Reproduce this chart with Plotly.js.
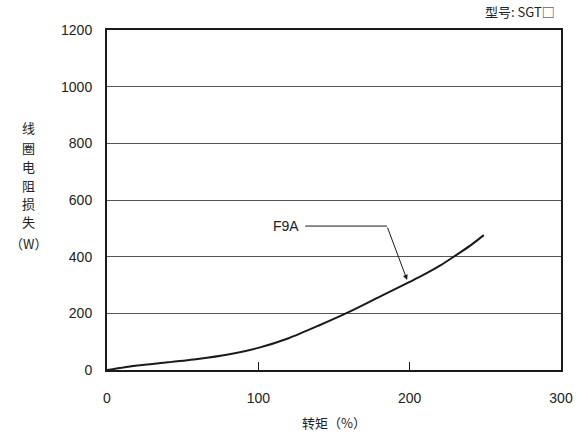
<!DOCTYPE html>
<html>
<head>
<meta charset="utf-8">
<script src="https://cdn.plot.ly/plotly-3.0.1.min.js"></script>
<style>html,body{margin:0;padding:0;background:#fff}#chart{width:586px;height:437px}</style>
</head>
<body>
<div id="chart"></div>
<script>
var torque = [0, 20, 40, 60, 80, 100, 120, 140, 160, 180, 200, 210, 220, 230, 240, 249];
var loss   = [0, 16, 27, 39, 55, 78, 112, 157, 205, 258, 311, 338, 368, 403, 439, 476];
var seriesName = 'F9A';
var xTicks = [0, 100, 200, 300];
var yTicks = [0, 200, 400, 600, 800, 1000, 1200];
var yTitleChars = ['线', '圈', '电', '阻', '损', '失', '（W）'];
var yTitlePix = [127, 147, 166, 185, 203, 221, 243];

var font = '"Liberation Sans", Arial, sans-serif';
var cjk = '"Noto Sans CJK SC", "Liberation Sans", sans-serif';

var trace = {
  x: torque, y: loss, type: 'scatter', mode: 'lines', name: seriesName,
  line: {color: '#1a1a1a', width: 2, shape: 'spline', smoothing: 0.7},
  hoverinfo: 'skip'
};

var annotations = [
  {xref: 'x', yref: 'y', x: 198.3, y: 318, axref: 'x', ayref: 'y', ax: 185, ay: 508,
   showarrow: true, arrowhead: 2, arrowsize: 1, arrowwidth: 1, arrowcolor: '#1a1a1a', text: ''},
  {xref: 'x', yref: 'y', x: 128, y: 508, xanchor: 'right', yanchor: 'middle',
   showarrow: false, text: seriesName, font: {family: font, size: 14, color: '#222'}},
  {xref: 'paper', yref: 'paper', x: 1.0, y: 1.0, xanchor: 'right', yanchor: 'bottom', yshift: 7, xshift: -4,
   showarrow: false, text: '型号: SGT□', font: {family: cjk, size: 13, color: '#222'}}
];
yTitleChars.forEach(function (c, i) {
  annotations.push({xref: 'paper', yref: 'paper', x: (28 - 107) / 454, y: (370 - yTitlePix[i]) / 340,
    xanchor: 'center', yanchor: 'middle', showarrow: false, text: c,
    font: {family: cjk, size: 13, color: '#222'}});
});

var layout = {
  width: 586, height: 437,
  margin: {l: 107, r: 25, t: 30, b: 67},
  paper_bgcolor: '#fff', plot_bgcolor: '#fff',
  showlegend: false,
  font: {family: font, size: 14, color: '#222'},
  xaxis: {
    range: [0, 300], tickvals: xTicks, ticktext: xTicks.map(String),
    showgrid: false, zeroline: false,
    showline: true, mirror: true, linecolor: '#1a1a1a', linewidth: 2,
    ticks: 'inside', ticklen: 8, tickcolor: '#1a1a1a', tickwidth: 1,
    ticklabelstandoff: 14,
    tickfont: {family: font, size: 14, color: '#222'},
    title: {text: '转矩（%）', font: {family: cjk, size: 13, color: '#222'}, standoff: 14}
  },
  yaxis: {
    range: [0, 1200], tickvals: yTicks, ticktext: yTicks.map(String),
    showgrid: true, gridcolor: '#555', gridwidth: 1, zeroline: false,
    showline: true, mirror: true, linecolor: '#1a1a1a', linewidth: 2,
    ticks: '', ticklabelstandoff: 10,
    tickfont: {family: font, size: 14, color: '#222'}
  },
  shapes: [
    {type: 'line', xref: 'x', yref: 'y', x0: 131, x1: 185, y0: 508, y1: 508,
     line: {color: '#1a1a1a', width: 1}}
  ],
  annotations: annotations
};

Plotly.newPlot('chart', [trace], layout, {displayModeBar: false, staticPlot: true});
</script>
</body>
</html>
